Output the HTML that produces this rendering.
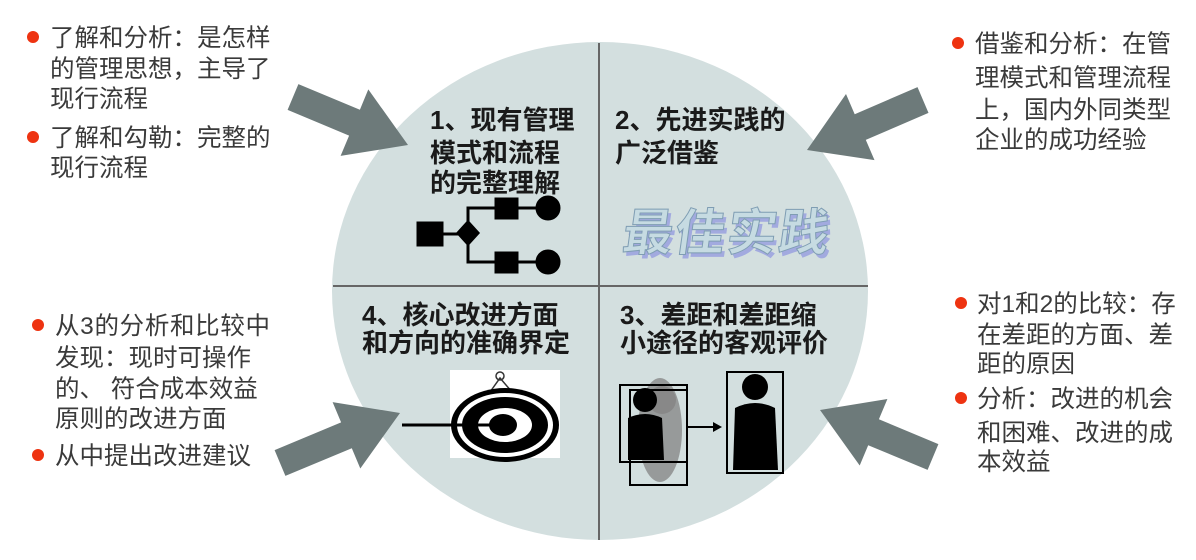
<!DOCTYPE html>
<html><head><meta charset="utf-8"><style>
html,body{margin:0;padding:0;background:#fff;}
svg{display:block;}
.t{font-family:"Liberation Sans","Noto Sans CJK SC",sans-serif;font-size:24.5px;fill:#3a3a3a;}
.b{font-family:"Liberation Sans","Noto Sans CJK SC",sans-serif;font-size:26px;font-weight:bold;fill:#1a1a1a;}
</style></head><body>
<svg id="s" width="1196" height="560" viewBox="0 0 1196 560" xmlns="http://www.w3.org/2000/svg">
<ellipse cx="600" cy="291" rx="268" ry="249" fill="#d3dfdf"/>
<line x1="599" y1="43" x2="599" y2="540" stroke="#666" stroke-width="2"/>
<line x1="333" y1="286" x2="868" y2="286" stroke="#666" stroke-width="2"/>
<g id="arrows" fill="#6d7a7a"></g>

<circle cx="33" cy="37" r="6" fill="#ee3311"/>
<text class="t" x="50" y="46">了解和分析：是怎样</text>
<text class="t" x="50" y="77">的管理思想，主导了</text>
<text class="t" x="50" y="107">现行流程</text>
<circle cx="33" cy="137" r="6" fill="#ee3311"/>
<text class="t" x="50" y="146">了解和勾勒：完整的</text>
<text class="t" x="50" y="176">现行流程</text>

<circle cx="958" cy="43" r="6" fill="#ee3311"/>
<text class="t" x="975" y="52">借鉴和分析：在管</text>
<text class="t" x="975" y="86">理模式和管理流程</text>
<text class="t" x="975" y="118">上，国内外同类型</text>
<text class="t" x="975" y="148">企业的成功经验</text>

<circle cx="961" cy="303" r="6" fill="#ee3311"/>
<text class="t" x="977" y="312">对1和2的比较：存</text>
<text class="t" x="977" y="343">在差距的方面、差</text>
<text class="t" x="977" y="372">距的原因</text>
<circle cx="961" cy="398" r="6" fill="#ee3311"/>
<text class="t" x="977" y="407">分析：改进的机会</text>
<text class="t" x="977" y="441">和困难、改进的成</text>
<text class="t" x="977" y="470">本效益</text>

<circle cx="38" cy="325" r="6" fill="#ee3311"/>
<text class="t" x="55" y="334" textLength="215">从3的分析和比较中</text>
<text class="t" x="55" y="366">发现：现时可操作</text>
<text class="t" x="55" y="397">的、 符合成本效益</text>
<text class="t" x="55" y="427">原则的改进方面</text>
<circle cx="38" cy="455" r="6" fill="#ee3311"/>
<text class="t" x="55" y="464">从中提出改进建议</text>

<text class="b" x="430" y="129">1、现有管理</text>
<text class="b" x="430" y="162">模式和流程</text>
<text class="b" x="430" y="192">的完整理解</text>
<text class="b" x="615" y="129">2、先进实践的</text>
<text class="b" x="615" y="162">广泛借鉴</text>
<text class="b" x="362" y="324">4、核心改进方面</text>
<text class="b" x="362" y="352">和方向的准确界定</text>
<text class="b" x="620" y="324">3、差距和差距缩</text>
<text class="b" x="620" y="352">小途径的客观评价</text>

<g stroke="#000" stroke-width="3" fill="#000">
<rect x="418" y="223" width="24" height="22"/>
<line x1="442" y1="234" x2="460" y2="234"/>
<polygon points="468,222 478,233 468,244 458,233"/>
<polyline points="468,222 468,208 495,208" fill="none"/>
<polyline points="468,244 468,262 495,262" fill="none"/>
<rect x="496" y="199" width="21" height="19"/>
<rect x="496" y="253" width="21" height="19"/>
<line x1="517" y1="208" x2="536" y2="208"/>
<line x1="517" y1="262" x2="536" y2="262"/>
<circle cx="548" cy="208" r="11"/>
<circle cx="548" cy="262" r="11"/>
</g>

<text x="622" y="250" font-family="Liberation Sans,'Noto Sans CJK SC',sans-serif" font-size="50" font-weight="bold" fill="#8e95e0" opacity="0.7" transform="translate(3,4) skewX(-8) translate(34,0)" textLength="206">最佳实践</text>
<text x="622" y="250" font-family="Liberation Sans,'Noto Sans CJK SC',sans-serif" font-size="50" font-weight="bold" fill="#c6dbe2" stroke="#7f9db3" stroke-width="1" transform="skewX(-8) translate(34,0)" textLength="206">最佳实践</text>

<rect x="450" y="370" width="110" height="88" fill="#fff"/>
<path d="M490,392 L500,378 L512,392" fill="none" stroke="#333" stroke-width="1.5"/>
<circle cx="500" cy="376" r="4" fill="none" stroke="#333" stroke-width="1.5"/>
<ellipse cx="505" cy="425" rx="54" ry="37" fill="#000"/>
<ellipse cx="505" cy="425" rx="48" ry="32" fill="#fff"/>
<ellipse cx="505" cy="425" rx="43" ry="28" fill="#000"/>
<ellipse cx="505" cy="425" rx="27" ry="17" fill="#fff"/>
<ellipse cx="503" cy="425" rx="14" ry="11" fill="#000"/>
<line x1="402" y1="425" x2="500" y2="425" stroke="#000" stroke-width="3"/>

<ellipse cx="660" cy="430" rx="22" ry="52" fill="#888" opacity="0.8"/>
<circle cx="662" cy="400" r="14" fill="#888"/>
<rect x="620" y="385" width="67" height="77" fill="none" stroke="#000" stroke-width="2"/>
<rect x="630" y="390" width="57" height="95" fill="none" stroke="#000" stroke-width="2"/>
<circle cx="645" cy="400" r="12" fill="#000"/>
<path d="M628,418 Q645,410 662,418 L664,460 L628,460 Z" fill="#000"/>
<line x1="687" y1="427" x2="716" y2="427" stroke="#000" stroke-width="2"/>
<polygon points="722,427 713,422 713,432" fill="#000"/>
<rect x="727" y="372" width="56" height="101" fill="none" stroke="#000" stroke-width="2"/>
<circle cx="755" cy="387" r="13" fill="#000"/>
<path d="M735,408 Q755,398 775,408 L778,470 L733,470 Z" fill="#000"/>
</svg>
<script>
function arrow(tx,ty,px,py){
 var dx=px-tx,dy=py-ty,L=Math.hypot(dx,dy),ux=dx/L,uy=dy/L,nx=-uy,ny=ux;
 var sw=14,hw=36,hl=58;
 var bx=px-ux*hl,by=py-uy*hl;
 var p=[[tx+nx*sw,ty+ny*sw],[bx+nx*sw,by+ny*sw],[bx+nx*hw,by+ny*hw],[px,py],[bx-nx*hw,by-ny*hw],[bx-nx*sw,by-ny*sw],[tx-nx*sw,ty-ny*sw]];
 var e=document.createElementNS("http://www.w3.org/2000/svg","polygon");
 e.setAttribute("points",p.map(function(q){return q[0].toFixed(1)+","+q[1].toFixed(1)}).join(" "));
 document.getElementById("arrows").appendChild(e);
}
arrow(293,97,408,145);
arrow(923,100,807,150);
arrow(933,457,820,410);
arrow(280,463,400,413);
</script>
</body></html>
